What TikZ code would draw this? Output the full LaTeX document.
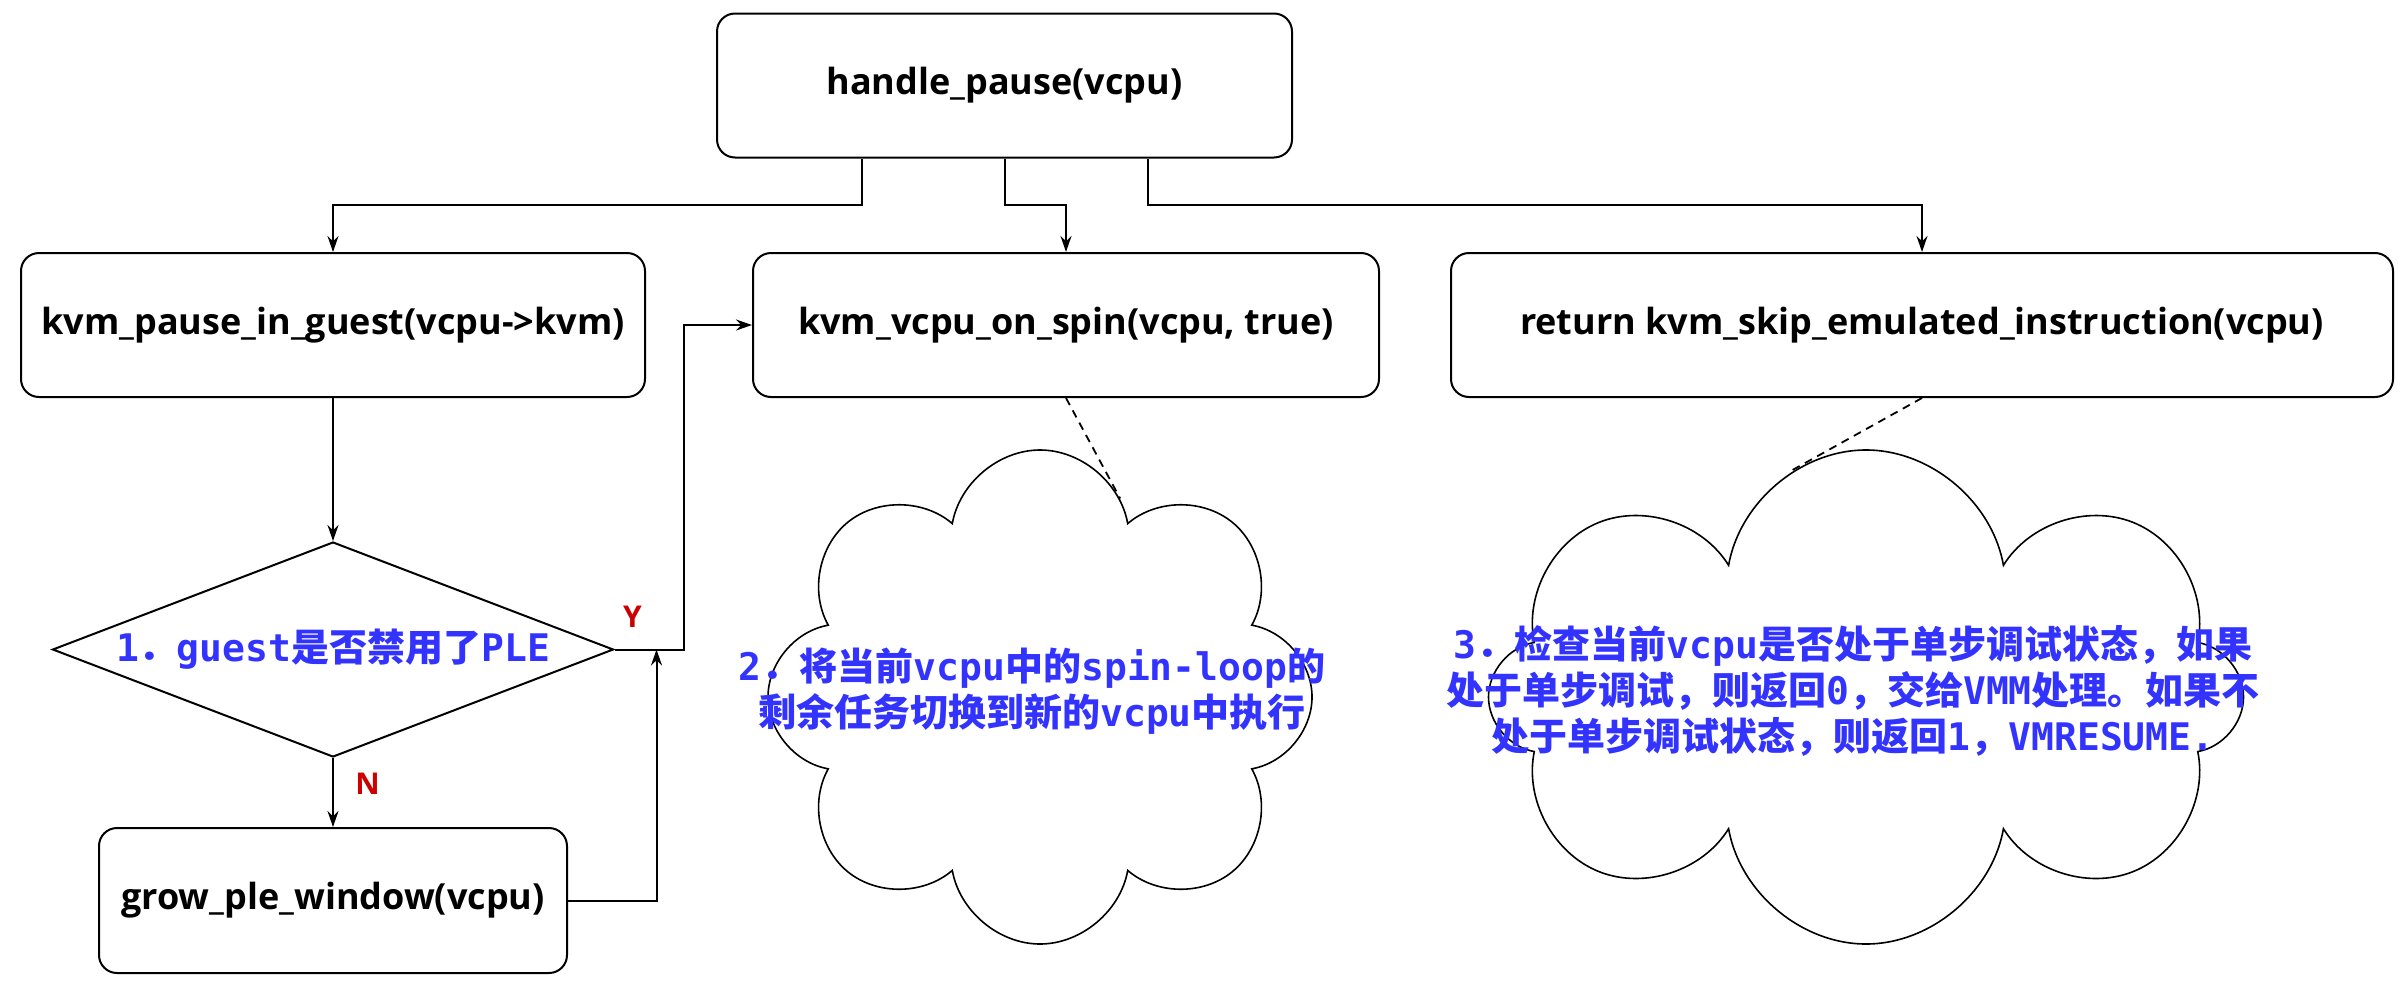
\documentclass[tikz,border=0pt]{standalone}
\usepackage{fontspec}
\setmainfont{Open Sans}
\newfontfamily\cjk{Noto Sans CJK SC}
\newfontfamily\mono{DejaVu Sans Mono}
\usetikzlibrary{shapes.geometric,shapes.symbols,arrows.meta,calc}
\definecolor{noteblue}{HTML}{3333FF}
\definecolor{ynred}{HTML}{CC0000}
\newcommand{\zh}[1]{{\cjk #1}}
\tikzset{
  fbox/.style={draw, line width=2pt, rounded corners=18pt, fill=white, minimum height=144pt,
    font=\bfseries\fontsize{36}{40}\selectfont},
  arr/.style={line width=2pt, -{Stealth[length=16pt,width=11pt]}},
  note/.style={text=noteblue, align=center, font=\mono\bfseries\fontsize{38}{46}\selectfont},
  yn/.style={text=ynred, font=\bfseries\fontsize{30}{30}\selectfont},
  puff/.style={draw, cloud, cloud puffs=8, cloud puff arc=160, cloud ignores aspect, line width=1.6pt, inner sep=0pt},
  link/.style={line width=1.8pt, dash pattern=on 8pt off 6pt}
}

\begin{document}
\begin{tikzpicture}[x=1pt,y=1pt]
\useasboundingbox (0,0) rectangle (2398,-991);
\node[fbox, minimum width=575pt] (hp) at (1004.5,-85.5) {handle\_pause(vcpu)};
\node[fbox, minimum width=624pt] (kpg) at (333,-325) {kvm\_pause\_in\_guest(vcpu->kvm)};
\node[fbox, minimum width=626pt] (spin) at (1066,-325) {kvm\_vcpu\_on\_spin(vcpu, true)};
\node[fbox, minimum width=942pt] (ret) at (1922,-325) {return kvm\_skip\_emulated\_instruction(vcpu)};
\node[diamond, draw, line width=2pt, shape aspect=2.6, minimum width=561pt, minimum height=215pt, inner sep=2pt, note] (dec) at (333,-649.5) {1\zh{．}guest\zh{是否禁用了}PLE};
\node[fbox, minimum width=468pt, minimum height=145pt] (grow) at (333,-900.5) {grow\_ple\_window(vcpu)};

\node[puff, minimum width=544pt, minimum height=494pt] (c1) at (1040,-697) {};
\node[note] (t1) at (1032,-691) {2\zh{．将当前}vcpu\zh{中的}spin-loop\zh{的}\\\zh{剩余任务切换到新的}vcpu\zh{中执行}};
\node[puff, minimum width=755pt, minimum height=494pt] (c2) at (1866,-697) {};
\node[note] (t2) at (1853,-691) {3\zh{．检查当前}vcpu\zh{是否处于单步调试状态，如果}\\\zh{处于单步调试，则返回}0\zh{，交给}VMM\zh{处理。如果不}\\\zh{处于单步调试状态，则返回}1\zh{，}VMRESUME.};

\draw[arr] ([xshift=-143pt]hp.south) |- ([yshift=47pt]kpg.north) -- (kpg.north);
\draw[arr] (hp.south) |- ([yshift=47pt]spin.north) -- (spin.north);
\draw[arr] ([xshift=143pt]hp.south) |- ([yshift=47pt]ret.north) -- (ret.north);
\draw[arr] (kpg.south) -- (dec.north);
\draw[arr] (dec.south) -- node[pos=0.37, right=18pt, yn] {N} (grow.north);
\draw[arr] (dec.east) -- node[pos=0.26, above=18pt, yn] {Y} ++(69,0) |- (spin.west);
\draw[arr] (grow.east) -| ([xshift=42pt]dec.east);
\draw[link] (spin.south) -- (c1.68);
\draw[link] (ret.south) -- (c2.108);
\end{tikzpicture}
\end{document}
